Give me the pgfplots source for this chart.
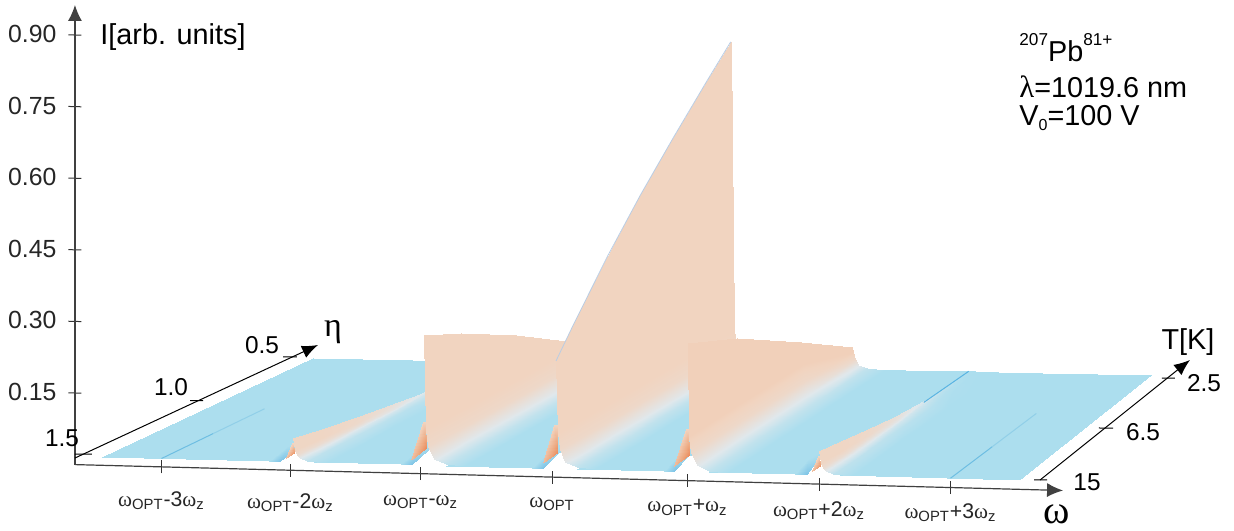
\documentclass[border=0pt]{standalone}
\usepackage{pgfplots}
\usepackage{pgfplotstable}
\usepackage{fontspec}
\pgfplotsset{compat=1.18}
\usetikzlibrary{arrows.meta}
\setmainfont{Liberation Sans}
\newfontfamily\grk{Liberation Serif}
\newcommand\om{{\grk\symbol{"03C9}}}
\newcommand\optl{\om\textsubscript{OPT}}
\newcommand\zl{\om\textsubscript{z}}
\newcommand\smallsup[1]{\raisebox{1.05ex}{\fontsize{8.6}{9}\selectfont #1}}
% projection of (omega offset u, depth v, intensity I) on the skewed page axes
\newcommand\Xe[1]{(#1+\thisrow{u})+\thisrow{v}*(1.31-0.0857*(#1+\thisrow{u}))}
\newcommand\Ye[1]{\thisrow{I}+0.0185+0.00033*(#1+\thisrow{u})+\thisrow{v}*(0.2231+0.00115*(#1+\thisrow{u}))}
% floor strip between two lines
\pgfplotstableread[row sep=\\]{
u v I c\\
0.16 0 0 0.2\\ 0.82 0 0 0.2\\ 0.90 0 0 0.12\\
0.16 0.15 0 0.2\\ 0.74 0.15 0 0.2\\ 0.82 0.15 0 0.18\\
0.16 0.30 0 0.2\\ 0.78 0.30 0 0.2\\ 1.00 0.30 0 0.2\\
0.16 1 0 0.2\\ 0.78 1 0 0.2\\ 1.00 1 0 0.2\\
}\floorstrip
\pgfplotstableread[row sep=\\]{
u v I c\\
-0.45 0 0 0.2\\ 0.82 0 0 0.2\\ 0.90 0 0 0.12\\
-0.45 0.15 0 0.2\\ 0.74 0.15 0 0.2\\ 0.82 0.15 0 0.18\\
-0.45 0.30 0 0.2\\ 0.78 0.30 0 0.2\\ 1.00 0.30 0 0.2\\
-0.45 1 0 0.2\\ 0.78 1 0 0.2\\ 1.00 1 0 0.2\\
}\floorleft
\pgfplotstableread[row sep=\\]{
u v I c\\
0.16 0 0 0.2\\ 1.52 0 0 0.2\\
0.16 1 0 0.2\\ 1.52 1 0 0.2\\
}\floorright
% second sidebands
\pgfplotstableread[row sep=\\]{
u v I c\\
0 0 0.05 0.58\\ 0.015 0 0.025 0.58\\ 0.03 0 0.015 0.52\\ 0.05 0 0.008 0.40\\ 0.11 0 0.002 0.27\\ 0.25 0 0 0.2\\
0 0.15 0.038 0.58\\ 0.015 0.15 0.02 0.58\\ 0.03 0.15 0.012 0.52\\ 0.05 0.15 0.006 0.40\\ 0.11 0.15 0.002 0.27\\ 0.25 0.15 0 0.2\\
0 0.33 0.025 0.56\\ 0.015 0.33 0.015 0.55\\ 0.03 0.33 0.01 0.50\\ 0.05 0.33 0.005 0.38\\ 0.11 0.33 0.0015 0.27\\ 0.25 0.33 0 0.2\\
0 0.5 0.013 0.50\\ 0.015 0.5 0.009 0.48\\ 0.03 0.5 0.006 0.44\\ 0.05 0.5 0.003 0.34\\ 0.11 0.5 0.001 0.25\\ 0.25 0.5 0 0.2\\
0 0.65 0.005 0.40\\ 0.015 0.65 0.004 0.38\\ 0.03 0.65 0.003 0.34\\ 0.05 0.65 0.0015 0.30\\ 0.11 0.65 0.0005 0.24\\ 0.25 0.65 0 0.2\\
0 0.8 0.001 0.28\\ 0.015 0.8 0.0008 0.27\\ 0.03 0.8 0.0006 0.25\\ 0.05 0.8 0.0004 0.23\\ 0.11 0.8 0.0002 0.21\\ 0.25 0.8 0 0.2\\
0 1 0 0.2\\ 0.015 1 0 0.2\\ 0.03 1 0 0.2\\ 0.05 1 0 0.2\\ 0.11 1 0 0.2\\ 0.25 1 0 0.2\\
}\sidetwo
% first sideband, lower
\pgfplotstableread[row sep=\\]{
u v I c\\
0 0 0.272 0.6\\ 0.015 0 0.075 0.6\\ 0.03 0 0.04 0.56\\ 0.07 0 0.014 0.42\\ 0.16 0 0.003 0.28\\ 0.30 0 0 0.2\\
0 0.2 0.235 0.6\\ 0.015 0.2 0.075 0.6\\ 0.03 0.2 0.04 0.56\\ 0.07 0.2 0.014 0.42\\ 0.16 0.2 0.003 0.28\\ 0.30 0.2 0 0.2\\
0 0.5 0.166 0.6\\ 0.015 0.5 0.075 0.6\\ 0.03 0.5 0.04 0.56\\ 0.07 0.5 0.014 0.42\\ 0.16 0.5 0.003 0.28\\ 0.30 0.5 0 0.2\\
0 0.77 0.097 0.6\\ 0.015 0.77 0.075 0.6\\ 0.03 0.77 0.04 0.56\\ 0.07 0.77 0.014 0.42\\ 0.16 0.77 0.003 0.28\\ 0.30 0.77 0 0.2\\
0 1 0.033 0.6\\ 0.015 1 0.025 0.6\\ 0.03 1 0.015 0.56\\ 0.07 1 0.006 0.42\\ 0.16 1 0.002 0.28\\ 0.30 1 0 0.2\\
}\sidelow
% carrier
\pgfplotstableread[row sep=\\]{
u v I c\\
0 0 0.225 0.6\\ 0.015 0 0.075 0.6\\ 0.03 0 0.04 0.56\\ 0.07 0 0.014 0.42\\ 0.16 0 0.003 0.28\\ 0.30 0 0 0.2\\
0 0.1 0.279 0.6\\ 0.018 0.1 0.075 0.6\\ 0.034 0.1 0.04 0.56\\ 0.073 0.1 0.014 0.42\\ 0.161 0.1 0.003 0.28\\ 0.30 0.1 0 0.2\\
0 0.3 0.381 0.6\\ 0.025 0.3 0.075 0.6\\ 0.042 0.3 0.04 0.56\\ 0.079 0.3 0.014 0.42\\ 0.163 0.3 0.003 0.28\\ 0.30 0.3 0 0.2\\
0 0.49 0.468 0.6\\ 0.032 0.49 0.075 0.6\\ 0.05 0.49 0.04 0.56\\ 0.085 0.49 0.014 0.42\\ 0.165 0.49 0.003 0.28\\ 0.30 0.49 0 0.2\\
0 0.68 0.547 0.6\\ 0.039 0.68 0.075 0.6\\ 0.057 0.68 0.04 0.56\\ 0.09 0.68 0.014 0.42\\ 0.167 0.68 0.003 0.28\\ 0.30 0.68 0 0.2\\
0 0.875 0.624 0.6\\ 0.046 0.875 0.075 0.6\\ 0.065 0.875 0.04 0.56\\ 0.096 0.875 0.014 0.42\\ 0.169 0.875 0.003 0.28\\ 0.30 0.875 0 0.2\\
0.02 1 0.68 0.6\\ 0.05 1 0.075 0.6\\ 0.07 1 0.04 0.56\\ 0.10 1 0.014 0.42\\ 0.17 1 0.003 0.28\\ 0.30 1 0 0.2\\
}\carrier
% first sideband, upper
\pgfplotstableread[row sep=\\]{
u v I c\\
0 0 0.27 0.62\\ 0.015 0 0.075 0.62\\ 0.03 0 0.04 0.56\\ 0.07 0 0.014 0.42\\ 0.16 0 0.003 0.28\\ 0.30 0 0 0.2\\
0 0.31 0.213 0.62\\ 0.015 0.31 0.075 0.62\\ 0.03 0.31 0.04 0.56\\ 0.07 0.31 0.014 0.42\\ 0.16 0.31 0.003 0.28\\ 0.30 0.31 0 0.2\\
0.01 0.7 0.121 0.62\\ 0.025 0.7 0.075 0.62\\ 0.04 0.7 0.04 0.56\\ 0.075 0.7 0.014 0.42\\ 0.16 0.7 0.003 0.28\\ 0.30 0.7 0 0.2\\
0.025 1 0.046 0.62\\ 0.035 1 0.035 0.62\\ 0.05 1 0.02 0.56\\ 0.08 1 0.008 0.42\\ 0.15 1 0.002 0.28\\ 0.30 1 0 0.2\\
}\sidehigh
% orange foot on the near edge of the big walls
\pgfplotstableread[row sep=\\]{
u v I c\\
-0.10 0 0.011 0.72\\ 0.015 0 0.035 0.92\\
-0.012 0 0.09 0.6\\ 0.005 0 0.09 0.6\\
}\footbig
\pgfplotstableread[row sep=\\]{
u v I c\\
-0.05 0 0.007 0.7\\ 0.01 0 0.018 0.88\\
-0.005 0 0.04 0.58\\ 0.003 0 0.04 0.58\\
}\footsmall
\pgfplotsset{
  sheet/.style={surf,shader=interp,point meta=explicit,mesh/cols=#1},
}
\newcommand\pxnode[4][center]{\node[anchor=#1,inner sep=0pt] at ({(#2-556)*0.5pt},{(477.2-#3)*0.5pt}) {#4};}
\begin{document}
\begin{tikzpicture}
\path[use as bounding box] (-278pt,-26.4pt) rectangle (339pt,238.6pt);
\begin{axis}[
  at={(0,0)},anchor=origin,
  x={(65.75pt,-1.7226pt)},y={(0pt,238.65pt)},
  xmin=-3.658,xmax=3.856,ymin=0,ymax=0.963,
  clip=false,
  axis lines=left,
  axis line style={-{Latex[length=8pt,width=7pt]},line width=0.6pt,color=black!75},
  tick style={color=black!80,line width=0.5pt},
  tick align=center,
  major tick length=6.5pt,
  xtick={-3,-2.02,-1.03,-0.03,1,2,3},
  xticklabels={\optl-3\zl,\optl-2\zl,\optl-\zl,\optl,\optl+\zl,\optl+2\zl,\optl+3\zl},
  ytick={0.15,0.30,0.45,0.60,0.75,0.90},
  yticklabel style={/pgf/number format/fixed,/pgf/number format/fixed zerofill,/pgf/number format/precision=2,/pgf/number format/assume math mode=true,font=\fontsize{12.4}{14}\selectfont,text=black!85,xshift=-2.5pt},
  xticklabel style={font=\fontsize{10.6}{12}\selectfont,text=black!85,yshift={-5.5pt+\ticknum*0.7pt}},
  colormap={rf}{rgb255=(62,160,220) rgb255=(172,222,238) rgb255=(224,232,236) rgb255=(241,212,192) rgb255=(238,170,130) rgb255=(232,120,70)},
  point meta min=0,point meta max=1,
]
\addplot[sheet=3] table[x expr=\Xe{-3},y expr=\Ye{-3},meta=c] {\floorleft};
\addplot[sheet=3] table[x expr=\Xe{-2},y expr=\Ye{-2},meta=c] {\floorstrip};
\addplot[sheet=3] table[x expr=\Xe{-1},y expr=\Ye{-1},meta=c] {\floorstrip};
\addplot[sheet=3] table[x expr=\Xe{0},y expr=\Ye{0},meta=c] {\floorstrip};
\addplot[sheet=3] table[x expr=\Xe{1},y expr=\Ye{1},meta=c] {\floorstrip};
\addplot[sheet=2] table[x expr=\Xe{2},y expr=\Ye{2},meta=c] {\floorright};
% faint ridges at the outer lines
\addplot[color={rgb,255:red,110;green,190;blue,226},line width=0.5pt] table[row sep=\\,x expr=\Xe{-3},y expr=\Ye{-3}] {u v I\\ 0 0 0\\ 0 0.25 0\\};
\addplot[color={rgb,255:red,145;green,207;blue,232},line width=0.5pt] table[row sep=\\,x expr=\Xe{-3},y expr=\Ye{-3}] {u v I\\ 0 0.25 0\\ 0 0.5 0\\};
\addplot[color={rgb,255:red,110;green,190;blue,226},line width=0.5pt] table[row sep=\\,x expr=\Xe{3},y expr=\Ye{3}] {u v I\\ 0 0 0\\ 0 0.3 0\\};
\addplot[color={rgb,255:red,145;green,207;blue,232},line width=0.5pt] table[row sep=\\,x expr=\Xe{3},y expr=\Ye{3}] {u v I\\ 0 0.3 0\\ 0 0.62 0\\};
% walls, left to right
\addplot[sheet=6] table[x expr=\Xe{-2},y expr=\Ye{-2},meta=c] {\sidetwo};
\addplot[sheet=2] table[x expr=\Xe{-2},y expr=\Ye{-2},meta=c] {\footsmall};
\addplot[sheet=6] table[x expr=\Xe{-1},y expr=\Ye{-1},meta=c] {\sidelow};
\addplot[sheet=2] table[x expr=\Xe{-1},y expr=\Ye{-1},meta=c] {\footbig};
\addplot[sheet=6] table[x expr=\Xe{0},y expr=\Ye{0},meta=c] {\carrier};
\addplot[sheet=2] table[x expr=\Xe{0},y expr=\Ye{0},meta=c] {\footbig};
\addplot[color={rgb,255:red,185;green,205;blue,228},line width=0.4pt] table[row sep=\\,x expr=\Xe{0},y expr=\Ye{0}] {u v I\\ 0 0 0.225\\ 0 0.1 0.279\\ 0 0.3 0.381\\ 0 0.49 0.468\\ 0 0.68 0.547\\ 0 0.875 0.624\\ 0.02 1 0.68\\};
\addplot[sheet=6] table[x expr=\Xe{1},y expr=\Ye{1},meta=c] {\sidehigh};
\addplot[sheet=2] table[x expr=\Xe{1},y expr=\Ye{1},meta=c] {\footbig};
\addplot[sheet=6] table[x expr=\Xe{2},y expr=\Ye{2},meta=c] {\sidetwo};
\addplot[sheet=2] table[x expr=\Xe{2},y expr=\Ye{2},meta=c] {\footsmall};
\addplot[color={rgb,255:red,90;green,180;blue,226},line width=0.5pt] table[row sep=\\,x expr=\Xe{2},y expr=\Ye{2}] {u v I\\ 0 0.7 0\\ 0 1 0\\};
% eta and T axes
\addplot[black,line width=0.5pt,-{Latex[length=8pt,width=6.5pt]}] coordinates {(-3.658,0.0138) (-1.81,0.2639)};
\addplot[black,line width=0.5pt] coordinates {(-3.658,0.0222) (-3.529,0.0231)};
\addplot[black,line width=0.5pt] coordinates {(-2.783,0.1406) (-2.684,0.1413)};
\addplot[black,line width=0.5pt] coordinates {(-2.076,0.2371) (-1.970,0.2379)};
\addplot[black,line width=0.5pt,-{Latex[length=8pt,width=6.5pt]}] coordinates {(3.681,0.0207) (4.821,0.2804)};
\addplot[black,line width=0.5pt] coordinates {(3.635,0.0204) (3.734,0.0211)};
\addplot[black,line width=0.5pt] coordinates {(4.129,0.1329) (4.236,0.1336)};
\addplot[black,line width=0.5pt] coordinates {(4.608,0.2411) (4.707,0.2418)};
\end{axis}
\fontsize{12.2}{14}\selectfont
\pxnode{62}{438}{1.5}
\pxnode{171}{387}{1.0}
\pxnode{262}{345}{0.5}
\pxnode{1204}{383}{2.5}
\pxnode{1143}{432}{6.5}
\pxnode{1087}{482}{15}
\fontsize{14.4}{16}\selectfont
\pxnode[west]{100}{37}{I[arb. units]}
\pxnode{1188}{342}{T[K]}
\pxnode{333}{332}{\fontsize{17}{18}\selectfont\grk\symbol{"03B7}}
\pxnode{1057}{514}{\fontsize{20}{20}\selectfont\om}
\pxnode[west]{1019}{48}{\smallsup{207}Pb\smallsup{81+}}
\pxnode[west]{1019}{87}{{\grk\fontsize{15.4}{16}\selectfont\symbol{"03BB}}=1019.6 nm}
\pxnode[west]{1019}{118}{V\raisebox{-0.35ex}{\fontsize{8}{9}\selectfont 0}=100 V}
\end{tikzpicture}
\end{document}
